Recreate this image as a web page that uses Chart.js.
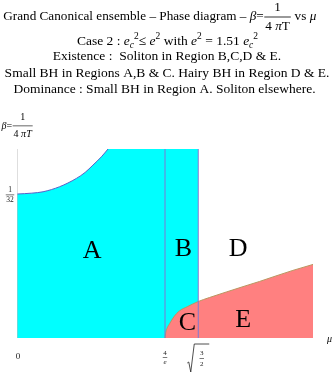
<!DOCTYPE html>
<html><head><meta charset="utf-8">
<script src="https://cdn.jsdelivr.net/npm/chart.js@4/dist/chart.umd.min.js"></script>
<style>html,body{margin:0;padding:0;background:#fff;overflow:hidden}canvas{display:block}</style>
</head><body>
<canvas id="c" width="336" height="375"></canvas>
<script>
// ---- data ----
const muRange = [0, 2];
const betaRange = [0, 0.0411];
const xTickValues = [0, 1.0, 1.2247];          // 0, 4/e, sqrt(3/2)
const xTickLabels = ['0', '4/e', '√(3/2)'];
const yTickValues = [0.03125];                  // 1/32
const yTickLabels = ['1/32'];
const smallBHMu   = [0, 0.10, 0.176, 0.288, 0.401, 0.460, 0.513, 0.570, 0.615];
const smallBHBeta = [0.03131, 0.0315, 0.0318, 0.0329, 0.0347, 0.0360, 0.0376, 0.0394, 0.0411];
const hairyMu   = [1.0, 1.005, 1.015, 1.031, 1.06, 1.098, 1.15, 1.222, 1.3, 1.414, 1.52, 1.639, 1.75, 1.864, 2.0];
const hairyBeta = [0, 0.0012, 0.0022, 0.0031, 0.0046, 0.0059, 0.0068, 0.0079, 0.0088, 0.0100, 0.0111, 0.0123, 0.0135, 0.0147, 0.0160];
const regionNames = ['A', 'B', 'C', 'D', 'E'];

// ---- helpers ----
const pts = (xs, ys) => xs.map((x, i) => ({ x: x, y: ys[i] }));
const SERIF = '"Liberation Serif", "Times New Roman", Times, serif';
const fnt = (sz, it) => (it ? 'italic ' : '') + sz + 'px ' + SERIF;
const T = (t, sz, o) => Object.assign({ t: t, sz: sz }, o || {});
const I = (t, sz, o) => Object.assign({ t: t, sz: sz, it: true }, o || {});
function segW(ctx, s) {
  if (s.frac) return Math.max(runW(ctx, s.num), runW(ctx, s.den)) + 2 * (s.pad || 1.5);
  ctx.font = fnt(s.sz, s.it);
  return ctx.measureText(s.t).width;
}
function runW(ctx, segs) { return segs.reduce((a, s) => a + segW(ctx, s), 0); }
function drawRun(ctx, segs, x, y) {
  for (const s of segs) {
    const w = segW(ctx, s);
    if (s.frac) {
      const cx = x + w / 2;
      const nw = runW(ctx, s.num), dw = runW(ctx, s.den);
      drawRun(ctx, s.num, cx - nw / 2, y + s.off - s.gap);
      drawRun(ctx, s.den, cx - dw / 2, y + s.off + s.gap);
      ctx.fillRect(x + 0.5, y + s.off - 0.4, w - 1, s.lw || 0.8);
    } else {
      ctx.font = fnt(s.sz, s.it);
      ctx.textBaseline = 'middle';
      ctx.textAlign = 'left';
      ctx.fillText(s.t, x, y + (s.dy || 0));
    }
    x += w;
  }
}
function drawCentered(ctx, segs, cx, y) { drawRun(ctx, segs, cx - runW(ctx, segs) / 2, y); }

const textPlugin = {
  id: 'texts',
  afterDraw(chart) {
    const ctx = chart.ctx, xs = chart.scales.x, ys = chart.scales.y, a = chart.chartArea;
    ctx.save();
    ctx.fillStyle = '#000';
    const S = 13.5, s2 = 9.5, S1 = 13.2;
    // title lines
    drawRun(ctx, [T('Grand Canonical ensemble – Phase diagram – ', S1), I('β', S1), T('=', S1),
      { frac: true, num: [T('1', S1)], den: [T('4 ', S1), I('π', S1), T('T', S1)], gap: 9.4, off: 0.3, pad: 1.5 },
      T(' vs ', S1), I('μ', S1)], 3.3, 16.7);
    drawCentered(ctx, [T('Case 2 : ', S), I('e', S), I('c', s2, { dy: 4 }), T('2', s2, { dy: -5 }), T('≤ ', S),
      I('e', S), T('2', s2, { dy: -5 }), T(' with ', S), I('e', S), T('2', s2, { dy: -5 }), T(' = 1.51 ', S),
      I('e', S), I('c', s2, { dy: 4 }), T('2', s2, { dy: -5 })], 167.5, 41);
    drawCentered(ctx, [T('Existence :  Soliton in Region B,C,D & E.', S)], 167, 56.7);
    drawCentered(ctx, [T('Small BH in Regions A,B & C. Hairy BH in Region D & E.', S)], 167, 73.3);
    drawCentered(ctx, [T('Dominance : Small BH in Region A. Soliton elsewhere.', S)], 164.5, 89.3);

    // axis labels
    drawRun(ctx, [I('β', 10), T('=', 10),
      { frac: true, num: [T('1', 10)], den: [T('4 ', 10), I('π', 10), I('T', 10)], gap: 8.5, off: 0, pad: 1.5, lw: 0.6 }],
      1.5, 126);
    drawRun(ctx, [I('μ', 10)], a.right + 14, a.bottom + 1);

    // y tick label 1/32
    ctx.fillStyle = '#222';
    const yy = ys.getPixelForValue(yTickValues[0]);
    drawCentered(ctx, [{ frac: true, num: [T('1', 7.5)], den: [T('32', 7.5)], gap: 5.2, off: 0.7, pad: 1, lw: 0.6 }], a.left - 7, yy);
    // x tick labels
    const bottomY = a.bottom + 19;
    drawCentered(ctx, [T(xTickLabels[0], 9)], xs.getPixelForValue(xTickValues[0]) + 1, bottomY);
    const x1 = xs.getPixelForValue(xTickValues[1]);
    drawCentered(ctx, [{ frac: true, num: [T('4', 7)], den: [I('e', 7)], gap: 4.6, off: 0.5, pad: 1, lw: 0.6 }], x1, bottomY);
    const x2 = xs.getPixelForValue(xTickValues[2]);
    drawCentered(ctx, [{ frac: true, num: [T('3', 7)], den: [T('2', 7)], gap: 5.4, off: 1.5, pad: 1, lw: 0.6 }], x2 + 3.5, bottomY);
    ctx.strokeStyle = '#222';
    ctx.lineWidth = 0.8;
    ctx.beginPath();
    ctx.moveTo(x2 - 11, bottomY + 6);
    ctx.lineTo(x2 - 9.5, bottomY + 5);
    ctx.lineTo(x2 - 7.5, bottomY + 15);
    ctx.lineTo(x2 - 4, bottomY - 13);
    ctx.lineTo(x2 + 11, bottomY - 13);
    ctx.stroke();

    // region labels
    ctx.fillStyle = '#000';
    const place = { A: [0.507, 0.0191], B: [1.124, 0.0195], C: [1.151, 0.00354], D: [1.495, 0.0195], E: [1.529, 0.00413] };
    ctx.font = fnt(26, false);
    ctx.textAlign = 'center';
    ctx.textBaseline = 'middle';
    regionNames.forEach(n => {
      ctx.fillText(n, xs.getPixelForValue(place[n][0]), ys.getPixelForValue(place[n][1]) + 1);
    });
    ctx.restore();
  }
};

const lastMu = smallBHMu[smallBHMu.length - 1];
new Chart(document.getElementById('c'), {
  type: 'scatter',
  data: {
    datasets: [
      // vertical lines and axis (drawn last)
      { data: [{ x: xTickValues[1], y: betaRange[0] }, { x: xTickValues[1], y: betaRange[1] }], showLine: true, borderColor: 'rgb(125,120,210)', borderWidth: 1, pointRadius: 0, order: 1 },
      { data: [{ x: xTickValues[2], y: betaRange[0] }, { x: xTickValues[2], y: betaRange[1] }], showLine: true, borderColor: 'rgb(125,120,210)', borderWidth: 1, pointRadius: 0, order: 1 },
      { data: [{ x: 0, y: betaRange[0] }, { x: 0, y: betaRange[1] }], showLine: true, borderColor: 'rgb(190,190,190)', borderWidth: 1, pointRadius: 0, order: 1 },
      // hairy BH region (red)
      { data: pts(hairyMu, hairyBeta), showLine: true, fill: 'origin', backgroundColor: 'rgb(255,128,128)', borderColor: 'rgb(185,150,95)', borderWidth: 1, pointRadius: 0, cubicInterpolationMode: 'monotone', order: 5 },
      // small BH region (cyan)
      { data: pts(smallBHMu, smallBHBeta), showLine: true, fill: 'origin', backgroundColor: 'rgb(0,255,255)', borderColor: 'rgb(90,95,200)', borderWidth: 1, pointRadius: 0, cubicInterpolationMode: 'monotone', order: 10 },
      { data: [{ x: lastMu - 0.004, y: betaRange[1] }, { x: xTickValues[2], y: betaRange[1] }], showLine: true, fill: 'origin', backgroundColor: 'rgb(0,255,255)', borderColor: 'rgba(0,0,0,0)', borderWidth: 1, pointRadius: 0, order: 11 }
    ]
  },
  options: {
    responsive: false,
    animation: false,
    layout: { padding: { left: 17, right: 23, top: 149, bottom: 37 } },
    scales: {
      x: { type: 'linear', min: muRange[0], max: muRange[1], display: false },
      y: { type: 'linear', min: betaRange[0], max: betaRange[1], display: false }
    },
    plugins: { legend: { display: false }, tooltip: { enabled: false }, title: { display: false } },
    elements: { point: { radius: 0 } }
  },
  plugins: [textPlugin]
});
</script>
</body></html>
